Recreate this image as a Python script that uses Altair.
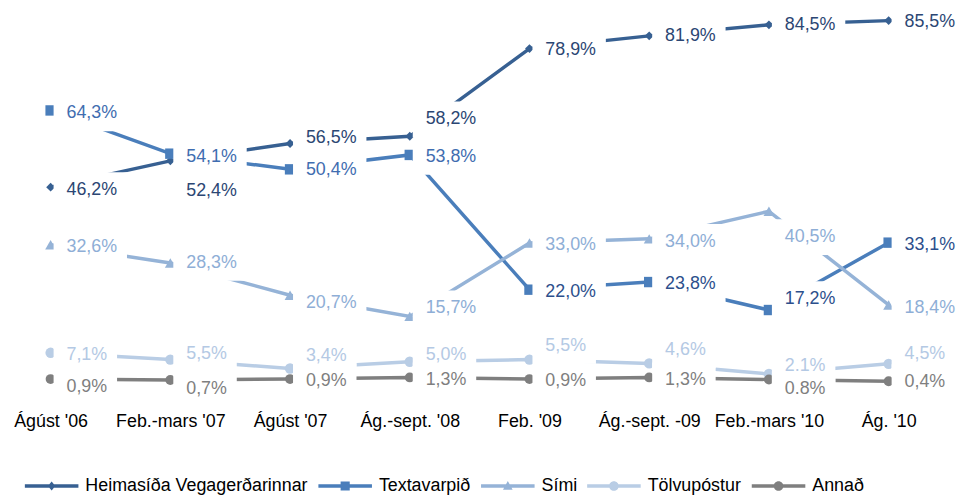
import altair as alt
import pandas as pd

FONT = "Liberation Sans, Arial, sans-serif"

categories = ["Ágúst '06", "Feb.-mars '07", "Ágúst '07", "Ág.-sept. '08",
              "Feb. '09", "Ág.-sept. -09", "Feb.-mars '10", "Ág. '10"]
series_names = ["Heimasíða Vegagerðarinnar", "Textavarpið", "Sími", "Tölvupóstur", "Annað"]

heimasida = [46.2, 52.4, 56.5, 58.2, 78.9, 81.9, 84.5, 85.5]
textavarpid = [64.3, 54.1, 50.4, 53.8, 22.0, 23.8, 17.2, 33.1]
simi = [32.6, 28.3, 20.7, 15.7, 33.0, 34.0, 40.5, 18.4]
tolvupostur = [7.1, 5.5, 3.4, 5.0, 5.5, 4.6, 2.1, 4.5]
annad = [0.9, 0.7, 0.9, 1.3, 0.9, 1.3, 0.8, 0.4]
values = [heimasida, textavarpid, simi, tolvupostur, annad]

# labels written with a decimal point instead of a comma in the original
dot_labels = {("Tölvupóstur", 6), ("Annað", 6)}

# styles
line_colors = ["#376092", "#4a7ebb", "#95b3d7", "#b9cde5", "#7f7f7f"]
label_colors = ["#2b4673", "#3f6db0", "#8eaed6", "#b4c9e4", "#7f7f7f"]
marker_shapes = ["diamond", "square", "triangle-up", "circle", "circle"]
marker_sizes = [80, 110, 120, 110, 100]

# vertical pixel offsets of the data labels (positive = down)
label_dy = [
    [3, 30, -5, -17, 1, 0, 0, 1],
    [3, 3, 1, 2, 2, 2, -11, 2],
    [2, 0, 8, -8, 2, 3, 26, 3],
    [2, -6, -13, -7, -14, -13, -8, -10],
    [8, 9, 2, 3, 2, 3, 10, 1],
]

rows = []
for si, name in enumerate(series_names):
    for ci, cat in enumerate(categories):
        v = values[si][ci]
        txt = f"{v:.1f}%" if (name, ci) in dot_labels else f"{v:.1f}".replace(".", ",") + "%"
        col = label_colors[si]
        if si == 1 and ci >= 4:
            col = "#2c4f8c"
        rows.append(dict(cat=cat, series=name, value=v, label=txt,
                         dy=label_dy[si][ci], lcolor=col, nchar=len(txt)))
df = pd.DataFrame(rows)

Y_MAX = 88
H = 376
W = 931
PX = Y_MAX / H

x_enc = alt.X("cat:N", sort=categories,
              scale=alt.Scale(type="point", padding=0.356),
              axis=alt.Axis(title=None, labelAngle=0, ticks=False, tickSize=0, domain=False,
                            grid=False, labelFont=FONT, labelFontSize=18, labelColor="#000000",
                            labelPadding=30))
y_scale = alt.Scale(domain=[0, Y_MAX], nice=False, zero=True)

base = alt.Chart(df)
layers = []
for si, name in enumerate(series_names):
    sub = base.transform_filter(alt.datum.series == name)
    layers.append(sub.mark_line(color=line_colors[si], strokeWidth=3.5).encode(
        x=x_enc, y=alt.Y("value:Q", scale=y_scale, axis=None)))
    layers.append(sub.mark_point(shape=marker_shapes[si], filled=True, size=marker_sizes[si],
                                 color=line_colors[si], opacity=1).encode(
        x=x_enc, y=alt.Y("value:Q", scale=y_scale, axis=None)))

# white label boxes (Excel-style filled data labels)
lab = base.transform_calculate(ly=f"datum.value - datum.dy * {PX}")
box5 = "M0.3,-1.8L7.7,-1.8L7.7,1.8L0.3,1.8Z"
box4 = "M0.3,-1.8L6.7,-1.8L6.7,1.8L0.3,1.8Z"
for n, path in [(5, box5), (4, box4)]:
    layers.append(lab.transform_filter(f"datum.nchar == {n}").mark_point(
        shape=path, size=400, filled=True, color="white", opacity=1, strokeWidth=0).encode(
        x=x_enc, y=alt.Y("ly:Q", scale=y_scale, axis=None)))

layers.append(lab.mark_text(align="left", baseline="middle", dx=16, font=FONT, fontSize=18).encode(
    x=x_enc, y=alt.Y("ly:Q", scale=y_scale, axis=None), text="label:N",
    color=alt.Color("lcolor:N", scale=None)))

line_part = "M-1,-0.065L1,-0.065L1,0.065L-1,0.065Z"
circ = "M-0.18,0A0.18,0.18,0,1,1,0.18,0A0.18,0.18,0,1,1,-0.18,0Z"
legend_paths = [
    line_part + "M0,-0.17L0.14,0L0,0.17L-0.14,0Z",
    line_part + "M-0.17,-0.17L0.17,-0.17L0.17,0.17L-0.17,0.17Z",
    line_part + "M0,-0.19L0.18,0.14L-0.18,0.14Z",
    line_part + circ,
    line_part + circ,
]
leg = dict(orient="none", legendX=17, legendY=453, direction="horizontal", title=None,
           labelFont=FONT, labelFontSize=18, labelColor="#000000", labelLimit=400,
           symbolSize=2916, labelOffset=7, columnPadding=10, symbolStrokeWidth=0, padding=0)
layers.append(base.transform_filter("false").mark_point(filled=True, opacity=1, strokeWidth=0).encode(
    x=x_enc, y=alt.Y("value:Q", scale=y_scale, axis=None),
    color=alt.Color("series:N", scale=alt.Scale(domain=series_names, range=line_colors),
                    sort=series_names, legend=alt.Legend(**leg)),
    shape=alt.Shape("series:N", scale=alt.Scale(domain=series_names, range=legend_paths),
                    sort=series_names, legend=alt.Legend(**leg))))

chart = alt.layer(*layers).resolve_scale(color="independent", shape="independent").properties(
    width=W, height=H,
    autosize=alt.AutoSizeParams(type="none"),
    padding={"left": 0, "top": 0, "right": 32, "bottom": 111},
).configure_view(stroke=None)

chart.save("out.html", embed_options={"renderer": "svg", "actions": False})
